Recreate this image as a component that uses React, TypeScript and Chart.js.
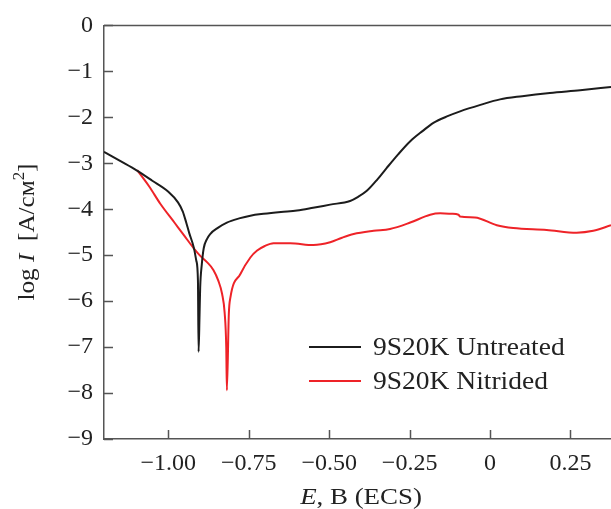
import React, { useEffect, useRef } from 'react';
import { Chart, registerables } from 'chart.js';

Chart.register(...registerables);

// ---- Data ----
const untreatedE = [
  -1.2, -1.15, -1.1, -1.05, -1.0, -0.97, -0.955, -0.944, -0.935, -0.921, -0.913, -0.908, -0.906,
  -0.903, -0.901, -0.896, -0.89, -0.88, -0.87, -0.845, -0.818, -0.78, -0.745, -0.704, -0.65, -0.6,
  -0.55, -0.497, -0.435, -0.41, -0.383, -0.35, -0.321, -0.285, -0.248, -0.21, -0.176, -0.13, -0.093,
  -0.03, 0.031, 0.1, 0.186, 0.28, 0.376,
];
const untreatedLogI = [
  -2.75, -2.95, -3.15, -3.38, -3.62, -3.85, -4.05, -4.3, -4.52, -4.83, -5.12, -5.55, -7.1,
  -6.3, -5.7, -5.2, -4.85, -4.65, -4.54, -4.4, -4.29, -4.2, -4.14, -4.1, -4.06, -4.03,
  -3.97, -3.9, -3.82, -3.73, -3.6, -3.35, -3.1, -2.8, -2.52, -2.3, -2.12, -1.97, -1.87,
  -1.73, -1.61, -1.54, -1.47, -1.41, -1.34,
];
const nitridedE = [
  -1.097, -1.06, -1.025, -0.98, -0.95, -0.921, -0.9, -0.88, -0.86, -0.845, -0.833, -0.825, -0.82,
  -0.818, -0.812, -0.807, -0.776, -0.745, -0.724, -0.7, -0.673, -0.621, -0.549, -0.497,
  -0.46, -0.424, -0.362, -0.311, -0.248, -0.186, -0.155, -0.12, -0.098, -0.093, -0.047, 0.021,
  0.072, 0.176, 0.269, 0.321, 0.376,
];
const nitridedLogI = [
  -3.15, -3.5, -3.88, -4.3, -4.58, -4.85, -5.02, -5.15, -5.32, -5.55, -5.84, -6.25, -7.0,
  -7.94, -6.28, -5.92, -5.41, -5.05, -4.9, -4.8, -4.74, -4.74, -4.78, -4.72,
  -4.62, -4.54, -4.47, -4.43, -4.29, -4.12, -4.09, -4.1, -4.12, -4.16, -4.18, -4.35,
  -4.41, -4.45, -4.51, -4.47, -4.35,
];

const seriesNames = ['9S20K Untreated', '9S20K Nitrided'];
const seriesColors = ['#1c1c1c', '#ee2328'];

const xTickValues = [-1, -0.75, -0.5, -0.25, 0, 0.25];
const xTickLabels = ['\u22121.00', '\u22120.75', '\u22120.50', '\u22120.25', '0', '0.25'];
const yTickValues = [0, -1, -2, -3, -4, -5, -6, -7, -8, -9];
const yTickLabels = ['0', '\u22121', '\u22122', '\u22123', '\u22124', '\u22125', '\u22126', '\u22127', '\u22128', '\u22129'];

const FONT = '"Liberation Serif", "Times New Roman", serif';
const AXIS_COLOR = '#555555';

// draws a run of differently styled text pieces, centred on cx, stretched horizontally by sx
function drawPieces(
  ctx: CanvasRenderingContext2D,
  pieces: { t: string; f: string; dy?: number }[],
  cx: number,
  baseY: number,
  sx: number
) {
  let total = 0;
  for (const p of pieces) {
    ctx.font = p.f;
    total += ctx.measureText(p.t).width;
  }
  ctx.save();
  ctx.translate(cx, baseY);
  ctx.scale(sx, 1);
  let x = -total / 2;
  ctx.textAlign = 'left';
  ctx.textBaseline = 'alphabetic';
  for (const p of pieces) {
    ctx.font = p.f;
    ctx.fillText(p.t, x, p.dy || 0);
    x += ctx.measureText(p.t).width;
  }
  ctx.restore();
}

const decorPlugin = {
  id: 'decor',
  afterDraw(chart: any) {
    const ctx: CanvasRenderingContext2D = chart.ctx;
    const { left, right, top, bottom } = chart.chartArea;
    const xs = chart.scales.x;
    const ys = chart.scales.y;
    ctx.save();
    // top frame line
    ctx.strokeStyle = AXIS_COLOR;
    ctx.lineWidth = 1.5;
    ctx.beginPath();
    ctx.moveTo(left, top);
    ctx.lineTo(right, top);
    ctx.stroke();
    // inner tick marks
    ctx.beginPath();
    xTickValues.forEach((v) => {
      const px = Math.round(xs.getPixelForValue(v)) + 0.5;
      ctx.moveTo(px, bottom);
      ctx.lineTo(px, bottom - 9);
    });
    yTickValues.forEach((v) => {
      const py = Math.round(ys.getPixelForValue(v)) + 0.5;
      ctx.moveTo(left, py);
      ctx.lineTo(left + 9, py);
    });
    ctx.stroke();

    // legend
    const legendY = [347, 381];
    seriesNames.forEach((name, i) => {
      ctx.strokeStyle = seriesColors[i];
      ctx.lineWidth = 2;
      ctx.beginPath();
      ctx.moveTo(309, legendY[i]);
      ctx.lineTo(361, legendY[i]);
      ctx.stroke();
      ctx.save();
      ctx.fillStyle = '#222';
      ctx.font = `25px ${FONT}`;
      ctx.textAlign = 'left';
      ctx.textBaseline = 'middle';
      ctx.translate(373, legendY[i] + 1);
      ctx.scale(1.1, 1);
      ctx.fillText(name, 0, 0);
      ctx.restore();
    });

    // axis titles
    ctx.fillStyle = '#222';
    drawPieces(
      ctx,
      [
        { t: 'E', f: `italic 24px ${FONT}` },
        { t: ', \u0412 (ECS)', f: `24px ${FONT}` },
      ],
      361,
      504,
      1.12
    );
    ctx.save();
    ctx.translate(34, 232);
    ctx.rotate(-Math.PI / 2);
    drawPieces(
      ctx,
      [
        { t: 'log ', f: `24px ${FONT}` },
        { t: 'I', f: `italic 24px ${FONT}` },
        { t: '  [A/\u0441\u043C', f: `24px ${FONT}` },
        { t: '2', f: `16px ${FONT}`, dy: -10 },
        { t: ']', f: `24px ${FONT}` },
      ],
      0,
      0,
      1.05
    );
    ctx.restore();
    ctx.restore();
  },
};

export default function App() {
  const canvasRef = useRef<HTMLCanvasElement | null>(null);

  useEffect(() => {
    document.body.style.margin = '0';
    const canvas = canvasRef.current;
    if (!canvas) return;
    const chart = new Chart(canvas, {
      type: 'line',
      data: {
        datasets: [
          {
            label: seriesNames[0],
            data: untreatedE.map((x, i) => ({ x, y: untreatedLogI[i] })),
            borderColor: seriesColors[0],
            borderWidth: 2,
            pointRadius: 0,
            cubicInterpolationMode: 'monotone',
            fill: false,
          },
          {
            label: seriesNames[1],
            data: nitridedE.map((x, i) => ({ x, y: nitridedLogI[i] })),
            borderColor: seriesColors[1],
            borderWidth: 2,
            pointRadius: 0,
            cubicInterpolationMode: 'monotone',
            fill: false,
          },
        ],
      },
      options: {
        animation: false,
        responsive: true,
        maintainAspectRatio: false,
        layout: { padding: { top: 24, right: 0, left: 0, bottom: 0 } },
        plugins: { legend: { display: false }, tooltip: { enabled: false } },
        scales: {
          x: {
            type: 'linear',
            min: -1.2,
            max: 0.376,
            afterBuildTicks: (scale: any) => {
              scale.ticks = xTickValues.map((v) => ({ value: v }));
            },
            afterFit: (scale: any) => {
              scale.height = 70;
            },
            ticks: {
              autoSkip: false,
              maxRotation: 0,
              padding: 10,
              color: '#222',
              font: { family: FONT, size: 24 },
              callback: (v: any) => {
                const i = xTickValues.findIndex((t) => Math.abs(t - v) < 1e-9);
                return i >= 0 ? xTickLabels[i] : '';
              },
            },
            grid: { display: false, drawTicks: false },
            border: { display: true, color: AXIS_COLOR, width: 1.5 },
          },
          y: {
            type: 'linear',
            min: -9,
            max: 0,
            afterBuildTicks: (scale: any) => {
              scale.ticks = yTickValues.slice().reverse().map((v) => ({ value: v }));
            },
            afterFit: (scale: any) => {
              scale.width = 104;
            },
            ticks: {
              autoSkip: false,
              padding: 11,
              color: '#222',
              font: { family: FONT, size: 24 },
              callback: (v: any) => {
                const i = yTickValues.findIndex((t) => Math.abs(t - v) < 1e-9);
                return i >= 0 ? yTickLabels[i] : '';
              },
            },
            grid: { display: false, drawTicks: false },
            border: { display: true, color: AXIS_COLOR, width: 1.5 },
          },
        },
      },
      plugins: [decorPlugin],
    } as any);
    return () => chart.destroy();
  }, []);

  return (
    <div style={{ width: 611, height: 509, position: 'relative', background: '#fff' }}>
      <canvas ref={canvasRef} />
    </div>
  );
}
